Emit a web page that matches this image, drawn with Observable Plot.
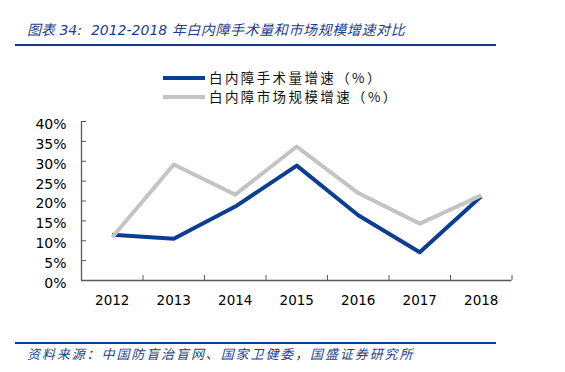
<!DOCTYPE html>
<html><head><meta charset="utf-8">
<script src="https://cdn.jsdelivr.net/npm/d3@7"></script>
<script src="https://cdn.jsdelivr.net/npm/@observablehq/plot@0.6"></script>
<style>
body{margin:0;background:#fff;}
#wrap{position:relative;width:565px;height:372px;overflow:hidden;background:#fff;font-family:"DejaVu Sans","Noto Sans CJK SC",sans-serif;}
.title{position:absolute;left:27px;top:20px;font-size:14px;font-style:italic;color:#1c3f8e;white-space:nowrap;line-height:19px;}
.cjk{letter-spacing:0.6px;font-family:"Noto Sans CJK SC",sans-serif;}
.rule{position:absolute;left:15px;width:481px;height:2px;background:#0d3c8f;}
.leg{position:absolute;left:163px;height:19px;line-height:19px;white-space:nowrap;font-size:13.5px;color:#111;font-family:"Noto Sans CJK SC",sans-serif;letter-spacing:2.4px;}
.sw{display:inline-block;width:42px;height:4px;vertical-align:middle;margin-right:4px;position:relative;top:-1px;}
.source{position:absolute;left:27px;top:345px;font-size:13px;font-style:italic;color:#1c3f8e;white-space:nowrap;line-height:18px;font-family:"Noto Sans CJK SC",sans-serif;letter-spacing:1.9px;}
#chart{position:absolute;left:0;top:105px;}
</style>
</head><body>
<div id="wrap">
  <div class="title" id="title"></div>
  <div class="rule" style="top:44px"></div>
  <div id="legend"></div>
  <div id="chart"></div>
  <div class="rule" style="top:342px"></div>
  <div class="source" id="source"></div>
</div>
<script>
const titlePrefix = "图表 34:  2012-2018 ";
const titleCjk = "年白内障手术量和市场规模增速对比";
const sourceText = "资料来源：中国防盲治盲网、国家卫健委，国盛证券研究所";
const years = [2012, 2013, 2014, 2015, 2016, 2017, 2018];
const surgeryGrowth = [11.5, 10.5, 18.6, 28.9, 16.4, 7.1, 21.2];
const marketGrowth = [10.9, 29.2, 21.6, 33.7, 22.0, 14.3, 21.4];
const yTicks = [0, 5, 10, 15, 20, 25, 30, 35, 40];
const seriesNames = ["白内障手术量增速（%）", "白内障市场规模增速（%）"];
const seriesColors = ["#0b3d91", "#c4c4c4"];

document.getElementById("title").innerHTML =
  `<span>${titlePrefix.replace(/ /g, "&nbsp;")}</span><span class="cjk">${titleCjk}</span>`;
document.getElementById("source").textContent = sourceText;
const leg = document.getElementById("legend");
seriesNames.forEach((n, i) => {
  const d = document.createElement("div");
  d.className = "leg";
  d.style.top = (68 + i * 19) + "px";
  d.innerHTML = `<span class="sw" style="background:${seriesColors[i]}"></span>${n}`;
  leg.appendChild(d);
});

const rows = [];
years.forEach((y, i) => {
  rows.push({year: y, value: surgeryGrowth[i], series: seriesNames[0]});
});
years.forEach((y, i) => {
  rows.push({year: y, value: marketGrowth[i], series: seriesNames[1]});
});
const xMin = years[0] - 0.5, xMax = years[years.length - 1] + 0.5;
const boundaries = years.map(y => y + 0.5);
const axisColor = "#595959";

const chart = Plot.plot({
  width: 565,
  height: 205,
  marginTop: 16,
  marginBottom: 30,
  marginLeft: 81,
  marginRight: 53.5,
  style: {fontFamily: "DejaVu Sans, sans-serif", fontSize: "14px", color: "#000", background: "transparent", overflow: "visible"},
  x: {domain: [xMin, xMax], label: null},
  y: {domain: [0, 40], label: null},
  color: {domain: seriesNames, range: seriesColors},
  marks: [
    Plot.axisY({ticks: yTicks, tickSize: 0, tickPadding: 15, tickFormat: d => d + "%", dy: 3, fontSize: 14}),
    Plot.axisY({ticks: yTicks, tickSize: 5, dx: 5, tickFormat: () => "", stroke: axisColor}),
    Plot.axisX({ticks: years, tickSize: 0, tickPadding: 15, tickFormat: d => String(d), fontSize: 13.5}),
    Plot.axisX({ticks: boundaries, tickSize: 5, dy: -5, tickFormat: () => "", stroke: axisColor}),
    Plot.ruleY([0], {stroke: axisColor, strokeWidth: 1.3}),
    Plot.ruleX([xMin], {stroke: axisColor, strokeWidth: 1.3}),
    Plot.line(rows, {x: "year", y: "value", z: "series", stroke: "series", strokeWidth: 4, strokeLinejoin: "round", strokeLinecap: "butt"})
  ]
});
document.getElementById("chart").appendChild(chart);
</script>
</body></html>
